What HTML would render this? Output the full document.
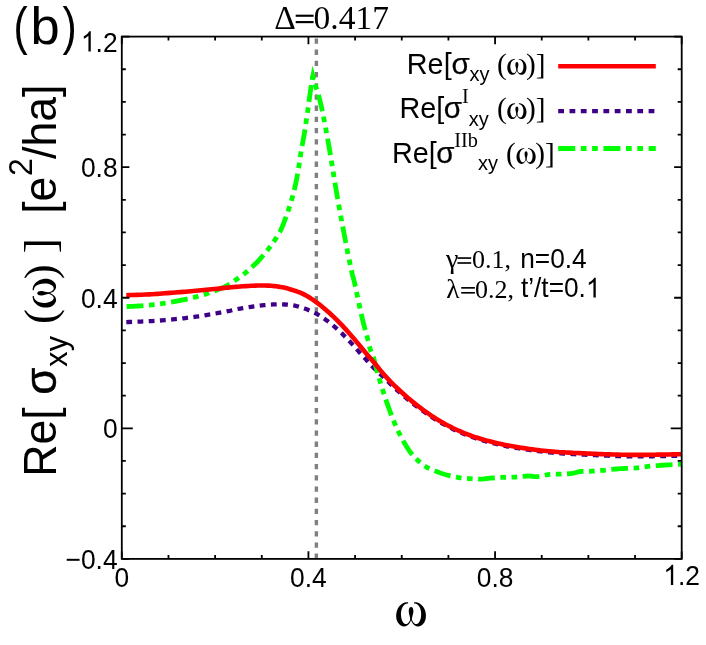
<!DOCTYPE html>
<html><head><meta charset="utf-8"><title>chart</title>
<style>html,body{margin:0;padding:0;background:#fff}svg{display:block;will-change:transform}text{fill:#000}</style></head>
<body>
<svg width="706" height="645" viewBox="0 0 706 645">
<rect width="706" height="645" fill="#fff"/>
<line x1="316.37" y1="36.60" x2="316.37" y2="558.90" stroke="#808080" stroke-width="3.4" stroke-dasharray="5.3 5.9" stroke-dashoffset="-1.8"/>
<path d="M126.30,322.10 L128.88,322.00 L132.51,321.87 L136.78,321.72 L141.27,321.55 L145.55,321.37 L149.20,321.20 L152.21,321.03 L154.91,320.86 L157.41,320.69 L159.80,320.50 L162.20,320.31 L164.70,320.10 L167.29,319.88 L169.89,319.64 L172.49,319.40 L175.10,319.14 L177.70,318.88 L180.30,318.60 L182.90,318.31 L185.50,318.02 L188.10,317.71 L190.70,317.39 L193.30,317.06 L195.90,316.70 L198.49,316.32 L201.07,315.93 L203.64,315.52 L206.23,315.09 L208.85,314.65 L211.50,314.20 L214.30,313.72 L217.26,313.19 L220.25,312.66 L223.13,312.13 L225.75,311.64 L228.00,311.20 L229.69,310.84 L230.90,310.54 L231.86,310.27 L232.80,310.01 L233.97,309.73 L235.60,309.40 L237.74,309.00 L240.21,308.57 L242.91,308.11 L245.71,307.64 L248.51,307.20 L251.20,306.80 L253.82,306.43 L256.49,306.07 L259.14,305.73 L261.76,305.41 L264.29,305.13 L266.70,304.90 L268.98,304.71 L271.15,304.56 L273.24,304.44 L275.26,304.36 L277.24,304.32 L279.20,304.30 L281.17,304.33 L283.15,304.40 L285.09,304.51 L286.93,304.63 L288.61,304.77 L290.10,304.90 L291.27,305.00 L292.15,305.09 L292.88,305.18 L293.60,305.31 L294.46,305.51 L295.60,305.80 L297.06,306.20 L298.74,306.67 L300.56,307.22 L302.44,307.81 L304.31,308.45 L306.10,309.10 L307.82,309.77 L309.54,310.48 L311.25,311.22 L312.95,312.00 L314.63,312.83 L316.30,313.70 L317.96,314.63 L319.61,315.62 L321.24,316.65 L322.86,317.71 L324.45,318.80 L326.00,319.90 L327.51,321.01 L328.99,322.15 L330.43,323.31 L331.86,324.49 L333.28,325.68 L334.70,326.90 L336.13,328.14 L337.55,329.40 L338.96,330.69 L340.36,331.99 L341.74,333.29 L343.10,334.60 L344.43,335.91 L345.73,337.23 L347.01,338.56 L348.28,339.90 L349.54,341.25 L350.80,342.60 L352.06,343.98 L353.31,345.37 L354.56,346.78 L355.79,348.18 L357.00,349.56 L358.20,350.90 L359.36,352.19 L360.50,353.44 L361.62,354.67 L362.73,355.90 L363.86,357.14 L365.00,358.40 L366.11,359.66 L367.17,360.88 L368.24,362.12 L369.37,363.41 L370.64,364.79 L372.10,366.30 L373.81,367.98 L375.72,369.81 L377.77,371.74 L379.87,373.70 L381.94,375.64 L383.90,377.50 L385.73,379.28 L387.49,381.02 L389.22,382.74 L390.97,384.47 L392.78,386.21 L394.70,388.00 L396.74,389.85 L398.87,391.75 L401.06,393.67 L403.28,395.59 L405.50,397.47 L407.70,399.30 L409.88,401.08 L412.06,402.83 L414.25,404.55 L416.44,406.24 L418.62,407.89 L420.80,409.50 L422.97,411.07 L425.14,412.61 L427.31,414.12 L429.47,415.59 L431.63,417.01 L433.80,418.40 L435.97,419.74 L438.13,421.05 L440.30,422.31 L442.47,423.54 L444.63,424.74 L446.80,425.90 L448.97,427.03 L451.13,428.13 L453.30,429.20 L455.47,430.23 L457.63,431.23 L459.80,432.20 L461.95,433.13 L464.09,434.02 L466.22,434.88 L468.38,435.70 L470.56,436.51 L472.80,437.30 L475.06,438.07 L477.34,438.80 L479.65,439.51 L482.01,440.21 L484.46,440.90 L487.00,441.60 L489.67,442.31 L492.46,443.02 L495.32,443.73 L498.23,444.42 L501.13,445.08 L504.00,445.70 L506.83,446.27 L509.67,446.80 L512.50,447.31 L515.33,447.79 L518.17,448.25 L521.00,448.70 L523.83,449.14 L526.67,449.57 L529.50,449.98 L532.33,450.37 L535.17,450.74 L538.00,451.10 L540.83,451.44 L543.67,451.77 L546.50,452.08 L549.33,452.37 L552.17,452.65 L555.00,452.90 L557.86,453.13 L560.74,453.33 L563.62,453.51 L566.48,453.68 L569.28,453.84 L572.00,454.00 L574.59,454.15 L577.07,454.29 L579.50,454.42 L581.93,454.54 L584.41,454.67 L587.00,454.80 L589.72,454.94 L592.52,455.07 L595.38,455.21 L598.26,455.35 L601.14,455.48 L604.00,455.60 L606.83,455.72 L609.67,455.83 L612.50,455.94 L615.33,456.04 L618.17,456.13 L621.00,456.20 L623.83,456.26 L626.67,456.31 L629.50,456.35 L632.33,456.38 L635.17,456.39 L638.00,456.40 L640.83,456.39 L643.67,456.37 L646.50,456.33 L649.33,456.29 L652.17,456.24 L655.00,456.20 L657.92,456.15 L660.95,456.10 L663.98,456.05 L666.90,456.00 L669.61,455.95 L672.00,455.90 L674.10,455.86 L676.01,455.82 L677.71,455.78 L679.17,455.75 L680.38,455.72 L681.30,455.70" fill="none" stroke="#3e0087" stroke-width="4.3" stroke-dasharray="5.8 5.42"/>
<path d="M312.90,76.20 L312.72,77.16 L312.48,78.42 L312.19,79.95 L311.87,81.70 L311.53,83.63 L311.20,85.70 L310.85,88.08 L310.47,90.83 L310.07,93.76 L309.68,96.67 L309.31,99.39 L309.00,101.70 L308.75,103.53 L308.54,105.03 L308.36,106.32 L308.19,107.54 L308.01,108.82 L307.80,110.30 L307.56,111.98 L307.30,113.74 L307.03,115.57 L306.76,117.44 L306.48,119.33 L306.20,121.20 L305.94,122.98 L305.71,124.66 L305.47,126.36 L305.20,128.18 L304.89,130.23 L304.50,132.60 L304.02,135.38 L303.45,138.50 L302.83,141.84 L302.20,145.30 L301.58,148.76 L301.00,152.10 L300.48,155.37 L299.98,158.68 L299.50,161.98 L299.02,165.26 L298.52,168.47 L298.00,171.60 L297.46,174.62 L296.92,177.56 L296.36,180.44 L295.78,183.29 L295.16,186.13 L294.50,189.00 L293.78,191.91 L293.02,194.85 L292.22,197.79 L291.39,200.69 L290.55,203.54 L289.70,206.30 L288.81,209.03 L287.87,211.77 L286.92,214.45 L285.98,217.01 L285.10,219.38 L284.30,221.50 L283.63,223.30 L283.06,224.81 L282.54,226.14 L282.02,227.39 L281.46,228.64 L280.80,230.00 L280.04,231.47 L279.21,232.96 L278.34,234.47 L277.43,235.97 L276.52,237.45 L275.60,238.90 L274.69,240.31 L273.76,241.70 L272.82,243.07 L271.86,244.42 L270.89,245.76 L269.90,247.10 L268.90,248.41 L267.90,249.70 L266.88,250.98 L265.83,252.26 L264.74,253.56 L263.60,254.90 L262.42,256.27 L261.23,257.66 L259.99,259.07 L258.69,260.51 L257.30,261.99 L255.80,263.50 L254.14,265.10 L252.34,266.80 L250.44,268.53 L248.53,270.23 L246.66,271.84 L244.90,273.30 L243.24,274.60 L241.62,275.79 L240.04,276.89 L238.51,277.93 L237.03,278.92 L235.60,279.90 L234.27,280.84 L233.04,281.73 L231.86,282.57 L230.67,283.39 L229.40,284.19 L228.00,285.00 L226.48,285.80 L224.90,286.59 L223.25,287.36 L221.51,288.13 L219.66,288.90 L217.70,289.70 L215.60,290.53 L213.37,291.38 L211.03,292.24 L208.62,293.09 L206.17,293.92 L203.70,294.70 L201.19,295.45 L198.62,296.17 L196.00,296.87 L193.36,297.54 L190.72,298.18 L188.10,298.80 L185.50,299.38 L182.90,299.94 L180.29,300.46 L177.69,300.96 L175.09,301.44 L172.50,301.90 L169.91,302.34 L167.33,302.75 L164.75,303.14 L162.17,303.51 L159.59,303.87 L157.00,304.20 L154.40,304.52 L151.79,304.81 L149.18,305.09 L146.57,305.35 L143.97,305.59 L141.40,305.80 L138.68,305.99 L135.77,306.16 L132.88,306.30 L130.20,306.42 L127.94,306.52 L126.30,306.60" fill="none" stroke="#00ff00" stroke-width="4.8" stroke-dasharray="16.830 5.544 5.643 5.544 5.643 5.544" stroke-dashoffset="35.640"/>
<path d="M312.90,76.20 L313.21,77.31 L313.63,78.85 L314.13,80.68 L314.67,82.61 L315.21,84.51 L315.70,86.20 L316.14,87.61 L316.57,88.85 L316.99,90.04 L317.42,91.32 L317.89,92.80 L318.40,94.60 L318.99,96.88 L319.66,99.56 L320.36,102.44 L321.05,105.33 L321.68,108.02 L322.20,110.30 L322.58,112.00 L322.84,113.23 L323.05,114.26 L323.26,115.36 L323.52,116.78 L323.90,118.80 L324.41,121.48 L325.01,124.64 L325.68,128.12 L326.36,131.79 L327.05,135.50 L327.70,139.10 L328.32,142.64 L328.95,146.23 L329.57,149.86 L330.19,153.51 L330.80,157.17 L331.40,160.80 L331.99,164.42 L332.57,168.03 L333.15,171.65 L333.73,175.27 L334.31,178.88 L334.90,182.50 L335.51,186.17 L336.14,189.90 L336.77,193.62 L337.40,197.29 L338.01,200.84 L338.60,204.20 L339.16,207.34 L339.70,210.29 L340.23,213.12 L340.74,215.89 L341.27,218.66 L341.80,221.50 L342.36,224.47 L342.94,227.54 L343.52,230.62 L344.09,233.60 L344.62,236.39 L345.10,238.90 L345.47,240.91 L345.75,242.44 L345.99,243.79 L346.26,245.23 L346.61,247.04 L347.10,249.50 L347.80,252.91 L348.66,257.12 L349.61,261.70 L350.56,266.22 L351.42,270.26 L352.10,273.40 L352.57,275.41 L352.89,276.60 L353.12,277.30 L353.32,277.87 L353.56,278.65 L353.90,280.00 L354.35,281.97 L354.86,284.29 L355.41,286.83 L355.96,289.44 L356.50,291.98 L357.00,294.30 L357.44,296.35 L357.83,298.23 L358.21,300.03 L358.60,301.86 L359.02,303.82 L359.50,306.00 L360.04,308.44 L360.62,311.07 L361.24,313.83 L361.88,316.64 L362.53,319.45 L363.20,322.20 L363.90,324.95 L364.64,327.76 L365.41,330.56 L366.16,333.30 L366.86,335.90 L367.50,338.30 L368.05,340.50 L368.54,342.55 L368.98,344.47 L369.41,346.26 L369.84,347.93 L370.30,349.50 L370.79,350.85 L371.28,351.94 L371.77,352.92 L372.28,353.91 L372.79,355.06 L373.30,356.50 L373.80,358.20 L374.28,360.06 L374.76,362.07 L375.28,364.23 L375.85,366.54 L376.50,369.00 L377.24,371.65 L378.04,374.51 L378.89,377.51 L379.80,380.61 L380.73,383.76 L381.70,386.90 L382.70,390.06 L383.73,393.28 L384.80,396.54 L385.90,399.83 L387.04,403.13 L388.20,406.40 L389.40,409.71 L390.65,413.09 L391.93,416.47 L393.23,419.80 L394.52,422.99 L395.80,426.00 L397.07,428.81 L398.33,431.48 L399.60,434.02 L400.87,436.46 L402.13,438.81 L403.40,441.10 L404.67,443.33 L405.93,445.48 L407.20,447.54 L408.47,449.51 L409.73,451.37 L411.00,453.10 L412.25,454.68 L413.49,456.12 L414.73,457.44 L415.99,458.69 L417.27,459.90 L418.60,461.10 L419.91,462.27 L421.18,463.39 L422.48,464.47 L423.88,465.52 L425.46,466.56 L427.30,467.60 L429.46,468.67 L431.89,469.75 L434.49,470.82 L437.19,471.86 L439.89,472.83 L442.50,473.70 L445.06,474.48 L447.65,475.20 L450.24,475.85 L452.80,476.43 L455.29,476.95 L457.70,477.40 L460.03,477.76 L462.33,478.04 L464.56,478.25 L466.71,478.41 L468.76,478.56 L470.70,478.70 L472.46,478.85 L474.04,478.99 L475.52,479.11 L476.99,479.19 L478.52,479.22 L480.20,479.20 L482.04,479.09 L483.99,478.91 L486.00,478.67 L488.04,478.43 L490.09,478.19 L492.10,478.00 L494.08,477.85 L496.07,477.71 L498.05,477.59 L500.03,477.48 L502.02,477.38 L504.00,477.30 L505.98,477.25 L507.97,477.23 L509.95,477.23 L511.93,477.21 L513.92,477.18 L515.90,477.10 L517.90,476.95 L519.93,476.74 L521.96,476.50 L523.96,476.27 L525.92,476.10 L527.80,476.00 L529.60,476.03 L531.33,476.17 L533.01,476.36 L534.66,476.53 L536.32,476.63 L538.00,476.60 L539.68,476.40 L541.34,476.07 L542.99,475.67 L544.67,475.25 L546.40,474.88 L548.20,474.60 L550.08,474.43 L552.04,474.33 L554.04,474.27 L556.07,474.23 L558.10,474.18 L560.10,474.10 L562.13,474.01 L564.20,473.93 L566.28,473.84 L568.31,473.73 L570.23,473.59 L572.00,473.40 L573.54,473.13 L574.87,472.80 L576.10,472.43 L577.33,472.06 L578.66,471.74 L580.20,471.50 L581.97,471.36 L583.89,471.30 L585.92,471.29 L588.00,471.29 L590.07,471.27 L592.10,471.20 L594.08,471.09 L596.07,470.96 L598.05,470.81 L600.03,470.65 L602.02,470.48 L604.00,470.30 L605.98,470.10 L607.97,469.87 L609.95,469.64 L611.93,469.40 L613.92,469.19 L615.90,469.00 L617.90,468.85 L619.93,468.71 L621.96,468.60 L623.96,468.50 L625.92,468.40 L627.80,468.30 L629.60,468.22 L631.33,468.15 L633.01,468.09 L634.66,468.03 L636.32,467.93 L638.00,467.80 L639.68,467.61 L641.34,467.39 L642.99,467.13 L644.67,466.87 L646.40,466.62 L648.20,466.40 L650.08,466.21 L652.04,466.03 L654.04,465.86 L656.07,465.70 L658.10,465.54 L660.10,465.40 L662.11,465.26 L664.16,465.14 L666.21,465.02 L668.23,464.91 L670.17,464.81 L672.00,464.70 L673.81,464.59 L675.64,464.47 L677.39,464.36 L678.99,464.25 L680.32,464.16 L681.30,464.10" fill="none" stroke="#00ff00" stroke-width="4.8" stroke-dasharray="16.788 5.530 5.629 5.530 5.629 5.530" stroke-dashoffset="25.132"/>
<path d="M312.23,79.74 L312.9,76.2 L313.66,78.95" fill="none" stroke="#00ff00" stroke-width="4.8" stroke-linejoin="miter" stroke-miterlimit="20"/>
<path d="M126.30,295.20 L128.88,295.12 L132.51,295.00 L136.78,294.87 L141.27,294.72 L145.55,294.56 L149.20,294.40 L152.21,294.24 L154.91,294.06 L157.41,293.87 L159.80,293.69 L162.20,293.49 L164.70,293.30 L167.29,293.11 L169.89,292.91 L172.49,292.71 L175.10,292.51 L177.70,292.31 L180.30,292.10 L182.90,291.89 L185.50,291.68 L188.10,291.47 L190.70,291.25 L193.30,291.03 L195.90,290.80 L198.49,290.56 L201.07,290.32 L203.64,290.08 L206.23,289.82 L208.85,289.56 L211.50,289.30 L214.30,289.02 L217.26,288.71 L220.25,288.40 L223.13,288.10 L225.75,287.83 L228.00,287.60 L229.69,287.43 L230.90,287.31 L231.86,287.21 L232.80,287.13 L233.97,287.03 L235.60,286.90 L237.77,286.73 L240.33,286.53 L243.10,286.32 L245.94,286.12 L248.69,285.94 L251.20,285.80 L253.47,285.69 L255.63,285.61 L257.69,285.54 L259.70,285.50 L261.66,285.49 L263.60,285.50 L265.50,285.53 L267.34,285.59 L269.14,285.67 L270.92,285.78 L272.70,285.92 L274.50,286.10 L276.39,286.34 L278.37,286.63 L280.34,286.95 L282.23,287.29 L283.95,287.61 L285.40,287.90 L286.44,288.12 L287.11,288.29 L287.61,288.44 L288.12,288.63 L288.85,288.90 L290.00,289.30 L291.62,289.81 L293.56,290.40 L295.71,291.07 L297.98,291.82 L300.24,292.66 L302.40,293.60 L304.47,294.64 L306.53,295.77 L308.60,297.00 L310.67,298.30 L312.73,299.67 L314.80,301.10 L316.87,302.59 L318.93,304.15 L321.00,305.78 L323.07,307.47 L325.13,309.21 L327.20,311.00 L329.27,312.84 L331.33,314.73 L333.40,316.67 L335.47,318.66 L337.53,320.71 L339.60,322.80 L341.67,324.95 L343.73,327.15 L345.80,329.41 L347.87,331.70 L349.93,334.04 L352.00,336.40 L354.10,338.85 L356.23,341.40 L358.36,343.98 L360.45,346.54 L362.48,349.00 L364.40,351.30 L366.20,353.41 L367.90,355.38 L369.52,357.25 L371.11,359.08 L372.70,360.91 L374.30,362.80 L375.90,364.74 L377.48,366.70 L379.04,368.66 L380.62,370.62 L382.23,372.57 L383.90,374.50 L385.61,376.40 L387.33,378.27 L389.09,380.14 L390.89,382.00 L392.76,383.89 L394.70,385.80 L396.74,387.76 L398.87,389.77 L401.06,391.80 L403.28,393.81 L405.50,395.79 L407.70,397.70 L409.88,399.55 L412.06,401.36 L414.25,403.12 L416.44,404.86 L418.62,406.55 L420.80,408.20 L422.97,409.82 L425.14,411.39 L427.31,412.93 L429.47,414.43 L431.63,415.89 L433.80,417.30 L435.97,418.67 L438.13,419.99 L440.30,421.28 L442.47,422.52 L444.63,423.73 L446.80,424.90 L448.97,426.04 L451.13,427.14 L453.30,428.21 L455.47,429.24 L457.63,430.23 L459.80,431.20 L461.95,432.13 L464.09,433.02 L466.22,433.88 L468.38,434.70 L470.56,435.51 L472.80,436.30 L475.06,437.07 L477.34,437.80 L479.65,438.51 L482.01,439.21 L484.46,439.90 L487.00,440.60 L489.67,441.31 L492.46,442.02 L495.32,442.73 L498.23,443.42 L501.13,444.08 L504.00,444.70 L506.83,445.27 L509.67,445.80 L512.50,446.31 L515.33,446.79 L518.17,447.25 L521.00,447.70 L523.83,448.14 L526.67,448.57 L529.50,448.98 L532.33,449.37 L535.17,449.75 L538.00,450.10 L540.83,450.43 L543.67,450.74 L546.50,451.04 L549.33,451.31 L552.17,451.57 L555.00,451.80 L557.86,452.01 L560.74,452.20 L563.62,452.36 L566.48,452.51 L569.28,452.66 L572.00,452.80 L574.59,452.93 L577.07,453.06 L579.50,453.17 L581.93,453.28 L584.41,453.39 L587.00,453.50 L589.72,453.62 L592.52,453.74 L595.38,453.86 L598.26,453.98 L601.14,454.09 L604.00,454.20 L606.83,454.30 L609.67,454.39 L612.50,454.48 L615.33,454.56 L618.17,454.64 L621.00,454.70 L623.83,454.76 L626.67,454.80 L629.50,454.84 L632.33,454.87 L635.17,454.89 L638.00,454.90 L640.83,454.89 L643.67,454.87 L646.50,454.83 L649.33,454.79 L652.17,454.74 L655.00,454.70 L657.92,454.65 L660.95,454.60 L663.98,454.55 L666.90,454.50 L669.61,454.45 L672.00,454.40 L674.10,454.36 L676.01,454.32 L677.71,454.28 L679.17,454.25 L680.38,454.22 L681.30,454.20" fill="none" stroke="#ff0000" stroke-width="4.6" stroke-linejoin="round"/>
<rect x="121.8" y="36.6" width="559.90" height="522.30" fill="none" stroke="#000" stroke-width="1.8"/>
<path d="M121.80,558.9 v-7.6 M121.80,36.6 v7.6 M168.46,558.9 v-4.0 M168.46,36.6 v4.0 M215.12,558.9 v-4.0 M215.12,36.6 v4.0 M261.78,558.9 v-4.0 M261.78,36.6 v4.0 M308.43,558.9 v-7.6 M308.43,36.6 v7.6 M355.09,558.9 v-4.0 M355.09,36.6 v4.0 M401.75,558.9 v-4.0 M401.75,36.6 v4.0 M448.41,558.9 v-4.0 M448.41,36.6 v4.0 M495.07,558.9 v-7.6 M495.07,36.6 v7.6 M541.73,558.9 v-4.0 M541.73,36.6 v4.0 M588.38,558.9 v-4.0 M588.38,36.6 v4.0 M635.04,558.9 v-4.0 M635.04,36.6 v4.0 M681.70,558.9 v-7.6 M681.70,36.6 v7.6 M121.8,558.90 h7.6 M681.7,558.90 h-7.6 M121.8,526.26 h4.0 M681.7,526.26 h-4.0 M121.8,493.61 h4.0 M681.7,493.61 h-4.0 M121.8,460.97 h4.0 M681.7,460.97 h-4.0 M121.8,428.32 h11.0 M681.7,428.32 h-11.0 M121.8,395.68 h4.0 M681.7,395.68 h-4.0 M121.8,363.04 h4.0 M681.7,363.04 h-4.0 M121.8,330.39 h4.0 M681.7,330.39 h-4.0 M121.8,297.75 h7.6 M681.7,297.75 h-7.6 M121.8,265.11 h4.0 M681.7,265.11 h-4.0 M121.8,232.46 h4.0 M681.7,232.46 h-4.0 M121.8,199.82 h4.0 M681.7,199.82 h-4.0 M121.8,167.17 h7.6 M681.7,167.17 h-7.6 M121.8,134.53 h4.0 M681.7,134.53 h-4.0 M121.8,101.89 h4.0 M681.7,101.89 h-4.0 M121.8,69.24 h4.0 M681.7,69.24 h-4.0 M121.8,36.60 h7.6 M681.7,36.60 h-7.6" fill="none" stroke="#000" stroke-width="1.8"/>
<g transform="translate(121.80,0) scale(0.932,1) translate(-121.80,0)"><text x="113.93" y="586.90" font-family='"Liberation Sans", sans-serif' font-size="28.3">0</text></g>
<g transform="translate(308.43,0) scale(0.932,1) translate(-308.43,0)"><text x="288.76" y="586.90" font-family='"Liberation Sans", sans-serif' font-size="28.3">0.4</text></g>
<g transform="translate(495.07,0) scale(0.932,1) translate(-495.07,0)"><text x="475.40" y="586.90" font-family='"Liberation Sans", sans-serif' font-size="28.3">0.8</text></g>
<g transform="translate(681.70,0) scale(0.932,1) translate(-681.70,0)"><path transform="translate(662.03,585.00) scale(0.01382,-0.01382)" d="M763 0 H583 V1147 Q518 1085 412.5 1023 T223 930 V1104 Q374 1175 487 1276 T647 1472 H763 Z"/><text x="677.77" y="585.00" font-family='"Liberation Sans", sans-serif' font-size="28.3">.2</text></g>
<g transform="translate(117.60,0) scale(0.932,1) translate(-117.60,0)"><text x="61.73" y="568.90" font-family='"Liberation Sans", sans-serif' font-size="28.3">−0.4</text></g>
<g transform="translate(117.60,0) scale(0.932,1) translate(-117.60,0)"><text x="101.86" y="438.32" font-family='"Liberation Sans", sans-serif' font-size="28.3">0</text></g>
<g transform="translate(117.60,0) scale(0.932,1) translate(-117.60,0)"><text x="78.26" y="307.75" font-family='"Liberation Sans", sans-serif' font-size="28.3">0.4</text></g>
<g transform="translate(117.60,0) scale(0.932,1) translate(-117.60,0)"><text x="78.26" y="177.17" font-family='"Liberation Sans", sans-serif' font-size="28.3">0.8</text></g>
<g transform="translate(117.60,0) scale(0.932,1) translate(-117.60,0)"><path transform="translate(78.26,51.60) scale(0.01382,-0.01382)" d="M763 0 H583 V1147 Q518 1085 412.5 1023 T223 930 V1104 Q374 1175 487 1276 T647 1472 H763 Z"/><text x="94.00" y="51.60" font-family='"Liberation Sans", sans-serif' font-size="28.3">.2</text></g>
<text transform="translate(13.56,43.90) scale(0.8200,1)" font-family='"Liberation Sans", sans-serif' font-size="52.00">(</text>
<text transform="translate(30.62,44.20) scale(1.0000,1)" font-family='"Liberation Sans", sans-serif' font-size="52.50">b</text>
<text transform="translate(62.55,43.90) scale(0.8200,1)" font-family='"Liberation Sans", sans-serif' font-size="52.00">)</text>
<text x="274.3" y="28.8" font-family='"Liberation Serif", serif' font-size="33.5">Δ</text>
<rect x="295.70" y="14.66" width="17.90" height="2.14" fill="#000"/>
<rect x="295.70" y="21.03" width="17.90" height="2.14" fill="#000"/>
<text x="313.6" y="28.8" font-family='"Liberation Serif", serif' font-size="33.5">0.417</text>
<g transform="translate(396.10,626.50) scale(0.05941) translate(-100.0,-512.0)" fill="#000"><path d="M 302,103 C 240,98 170,130 130,210 C 92,285 92,385 130,445 C 160,495 205,515 242,512 C 292,508 335,465 352,400 L 352,330 C 345,400 310,472 266,470 C 225,468 197,420 185,350 C 174,280 187,200 227,157 C 252,130 282,122 302,124 Z"/><path d="M 402 103 C 464 98 534 130 574 210 C 612 285 612 385 574 445 C 544 495 499 515 462 512 C 412 508 369 465 352 400 L 352 330 C 359 400 394 472 438 470 C 479 468 507 420 519 350 C 530 280 517 200 477 157 C 452 130 422 122 402 124 Z"/><path d="M 352,183 C 326,183 311,215 313,258 C 315,300 332,335 338,380 C 342,404 347,416 352,424 C 357,416 362,404 366,380 C 372,335 389,300 391,258 C 393,215 378,183 352,183 Z"/></g>
<text x="446.04" y="268.2" font-family='"Liberation Serif", serif' font-size="28">γ</text>
<rect x="457.40" y="257.23" width="13.80" height="1.66" fill="#000"/>
<rect x="457.40" y="262.17" width="13.80" height="1.66" fill="#000"/>
<text x="472.0" y="268.2" font-family='"Liberation Serif", serif' font-size="26">0.1,</text>
<g transform="translate(520.20,0) scale(0.9569377990430623,1) translate(-520.20,0)"><text x="520.20" y="268.00" font-family='"Liberation Sans", sans-serif' font-size="27.4835">n=0.4</text></g>
<text x="446.17" y="298.0" font-family='"Liberation Serif", serif' font-size="27.5">λ</text>
<rect x="461.20" y="287.03" width="13.70" height="1.66" fill="#000"/>
<rect x="461.20" y="291.97" width="13.70" height="1.66" fill="#000"/>
<text x="475.1" y="298.0" font-family='"Liberation Serif", serif' font-size="26">0.2,</text>
<g transform="translate(520.90,0) scale(0.9569377990430623,1) translate(-520.90,0)"><text x="520.90" y="297.40" font-family='"Liberation Sans", sans-serif' font-size="27.4835">t’/t=0.</text><path transform="translate(588.88,297.40) scale(0.01342,-0.01342)" d="M763 0 H583 V1147 Q518 1085 412.5 1023 T223 930 V1104 Q374 1175 487 1276 T647 1472 H763 Z"/></g>
<text transform="translate(406.84,73.90) scale(0.9479,1)" font-family='"Liberation Sans", sans-serif' font-size="30.38">Re[</text>
<text x="451.56" y="73.90" font-family='"Liberation Sans", sans-serif' font-size="29.6" stroke="#000" stroke-width="0.25">σ</text>
<text transform="translate(469.48,81.10) scale(0.9479,1)" font-family='"Liberation Sans", sans-serif' font-size="21.10">xy</text>
<text x="496.91" y="73.90" font-family='"Liberation Serif", serif' font-size="29.30">(</text>
<g transform="translate(507.20,74.70) scale(0.03842) translate(-100.0,-512.0)" fill="#000"><path d="M 302,103 C 240,98 170,130 130,210 C 92,285 92,385 130,445 C 160,495 205,515 242,512 C 292,508 335,465 352,400 L 352,330 C 345,400 310,472 266,470 C 225,468 197,420 185,350 C 174,280 187,200 227,157 C 252,130 282,122 302,124 Z"/><path d="M 402 103 C 464 98 534 130 574 210 C 612 285 612 385 574 445 C 544 495 499 515 462 512 C 412 508 369 465 352 400 L 352 330 C 359 400 394 472 438 470 C 479 468 507 420 519 350 C 530 280 517 200 477 157 C 452 130 422 122 402 124 Z"/><path d="M 352,183 C 326,183 311,215 313,258 C 315,300 332,335 338,380 C 342,404 347,416 352,424 C 357,416 362,404 366,380 C 372,335 389,300 391,258 C 393,215 378,183 352,183 Z"/></g>
<text x="525.96" y="73.90" font-family='"Liberation Serif", serif' font-size="29.30">)</text>
<text x="535.74" y="73.90" font-family='"Liberation Serif", serif' font-size="29.30">]</text>
<text transform="translate(399.44,118.30) scale(0.9479,1)" font-family='"Liberation Sans", sans-serif' font-size="30.38">Re[</text>
<text x="443.66" y="118.30" font-family='"Liberation Sans", sans-serif' font-size="29.6" stroke="#000" stroke-width="0.25">σ</text>
<text x="461.97" y="102.60" font-family='"Liberation Serif", serif' font-size="20.30">I</text>
<text transform="translate(468.68,125.50) scale(0.9479,1)" font-family='"Liberation Sans", sans-serif' font-size="21.10">xy</text>
<text x="496.91" y="118.30" font-family='"Liberation Serif", serif' font-size="29.30">(</text>
<g transform="translate(507.20,119.10) scale(0.03842) translate(-100.0,-512.0)" fill="#000"><path d="M 302,103 C 240,98 170,130 130,210 C 92,285 92,385 130,445 C 160,495 205,515 242,512 C 292,508 335,465 352,400 L 352,330 C 345,400 310,472 266,470 C 225,468 197,420 185,350 C 174,280 187,200 227,157 C 252,130 282,122 302,124 Z"/><path d="M 402 103 C 464 98 534 130 574 210 C 612 285 612 385 574 445 C 544 495 499 515 462 512 C 412 508 369 465 352 400 L 352 330 C 359 400 394 472 438 470 C 479 468 507 420 519 350 C 530 280 517 200 477 157 C 452 130 422 122 402 124 Z"/><path d="M 352,183 C 326,183 311,215 313,258 C 315,300 332,335 338,380 C 342,404 347,416 352,424 C 357,416 362,404 366,380 C 372,335 389,300 391,258 C 393,215 378,183 352,183 Z"/></g>
<text x="525.96" y="118.30" font-family='"Liberation Serif", serif' font-size="29.30">)</text>
<text x="535.74" y="118.30" font-family='"Liberation Serif", serif' font-size="29.30">]</text>
<text transform="translate(392.04,163.10) scale(0.9479,1)" font-family='"Liberation Sans", sans-serif' font-size="30.38">Re[</text>
<text x="436.26" y="163.10" font-family='"Liberation Sans", sans-serif' font-size="29.6" stroke="#000" stroke-width="0.25">σ</text>
<text x="454.17" y="147.40" font-family='"Liberation Serif", serif' font-size="20.30">IIb</text>
<text transform="translate(478.08,170.30) scale(0.9479,1)" font-family='"Liberation Sans", sans-serif' font-size="21.10">xy</text>
<text x="506.11" y="163.10" font-family='"Liberation Serif", serif' font-size="29.30">(</text>
<g transform="translate(516.40,163.90) scale(0.03842) translate(-100.0,-512.0)" fill="#000"><path d="M 302,103 C 240,98 170,130 130,210 C 92,285 92,385 130,445 C 160,495 205,515 242,512 C 292,508 335,465 352,400 L 352,330 C 345,400 310,472 266,470 C 225,468 197,420 185,350 C 174,280 187,200 227,157 C 252,130 282,122 302,124 Z"/><path d="M 402 103 C 464 98 534 130 574 210 C 612 285 612 385 574 445 C 544 495 499 515 462 512 C 412 508 369 465 352 400 L 352 330 C 359 400 394 472 438 470 C 479 468 507 420 519 350 C 530 280 517 200 477 157 C 452 130 422 122 402 124 Z"/><path d="M 352,183 C 326,183 311,215 313,258 C 315,300 332,335 338,380 C 342,404 347,416 352,424 C 357,416 362,404 366,380 C 372,335 389,300 391,258 C 393,215 378,183 352,183 Z"/></g>
<text x="535.16" y="163.10" font-family='"Liberation Serif", serif' font-size="29.30">)</text>
<text x="544.94" y="163.10" font-family='"Liberation Serif", serif' font-size="29.30">]</text>
<line x1="558.2" y1="66.2" x2="655.8" y2="66.2" stroke="#ff0000" stroke-width="4.6"/>
<line x1="558.2" y1="111.2" x2="655.8" y2="111.2" stroke="#3e0087" stroke-width="4.3" stroke-dasharray="5.8 5.5"/>
<line x1="558.2" y1="148.5" x2="655.8" y2="148.5" stroke="#00ff00" stroke-width="4.8" stroke-dasharray="17 5.6 5.7 5.6 5.7 5.6"/>
<text transform="translate(56.0,476.66) rotate(-90) scale(0.9479,1)" font-family='"Liberation Sans", sans-serif' font-size="47.05">Re[</text>
<text transform="translate(56.0,394.85) rotate(-90)" font-family='"Liberation Sans", sans-serif' font-size="44.0" stroke="#000" stroke-width="0.4">σ</text>
<text transform="translate(66.9,366.64) rotate(-90) scale(0.9479,1)" font-family='"Liberation Sans", sans-serif' font-size="32.28">xy</text>
<text transform="translate(54.6,323.88) rotate(-90)" font-family='"Liberation Serif", serif' font-size="45.00">(</text>
<g transform="translate(56.10,307.60) rotate(-90) scale(0.05723) translate(-100.0,-512.0)" fill="#000"><path d="M 302,103 C 240,98 170,130 130,210 C 92,285 92,385 130,445 C 160,495 205,515 242,512 C 292,508 335,465 352,400 L 352,330 C 345,400 310,472 266,470 C 225,468 197,420 185,350 C 174,280 187,200 227,157 C 252,130 282,122 302,124 Z"/><path d="M 402 103 C 464 98 534 130 574 210 C 612 285 612 385 574 445 C 544 495 499 515 462 512 C 412 508 369 465 352 400 L 352 330 C 359 400 394 472 438 470 C 479 468 507 420 519 350 C 530 280 517 200 477 157 C 452 130 422 122 402 124 Z"/><path d="M 352,183 C 326,183 311,215 313,258 C 315,300 332,335 338,380 C 342,404 347,416 352,424 C 357,416 362,404 366,380 C 372,335 389,300 391,258 C 393,215 378,183 352,183 Z"/></g>
<text transform="translate(54.6,279.35) rotate(-90)" font-family='"Liberation Serif", serif' font-size="45.00">)</text>
<text transform="translate(54.9,253.23) rotate(-90)" font-family='"Liberation Serif", serif' font-size="45.00">]</text>
<text transform="translate(56.2,213.78) rotate(-90) scale(0.9479,1)" font-family='"Liberation Sans", sans-serif' font-size="47.05">[e</text>
<text transform="translate(31.7,176.01) rotate(-90) scale(0.9479,1)" font-family='"Liberation Sans", sans-serif' font-size="33.76">2</text>
<text transform="translate(56.2,159.00) rotate(-90) scale(0.9479,1)" font-family='"Liberation Sans", sans-serif' font-size="47.05">/ha]</text>
</svg>
</body></html>
